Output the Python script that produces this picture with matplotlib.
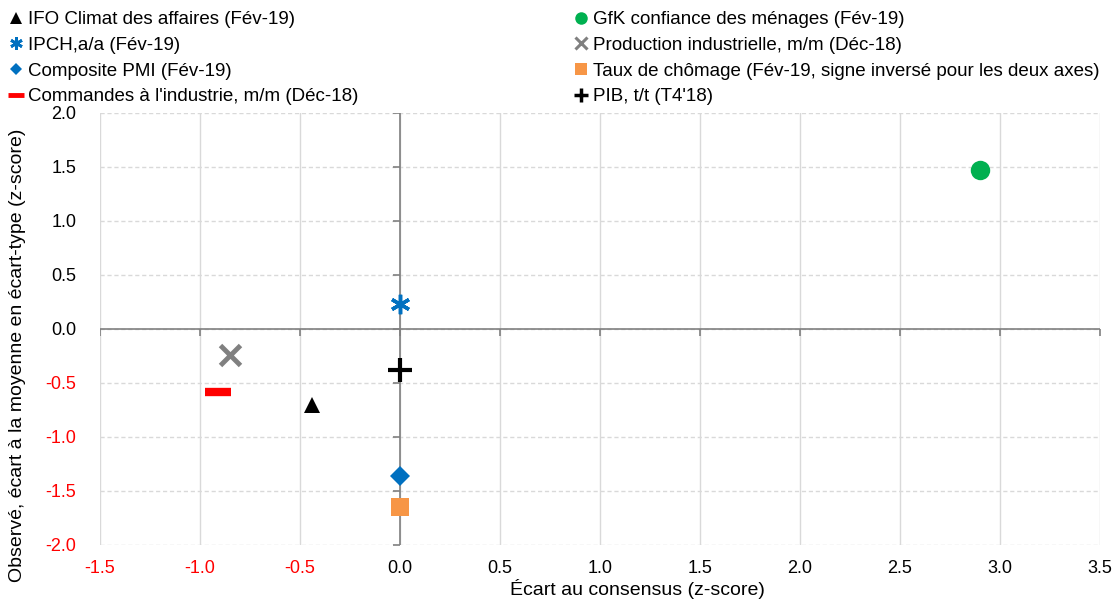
import matplotlib.pyplot as plt
from matplotlib.lines import Line2D
import numpy as np

plt.rcParams['font.family'] = ['Liberation Sans', 'DejaVu Sans']

# Données (écart au consensus, écart à la moyenne)
labels = ["IFO Climat des affaires (Fév-19)",
          "IPCH,a/a (Fév-19)",
          "Composite PMI (Fév-19)",
          "Commandes à l'industrie, m/m (Déc-18)",
          "GfK confiance des ménages (Fév-19)",
          "Production industrielle, m/m (Déc-18)",
          "Taux de chômage (Fév-19, signe inversé pour les deux axes)",
          "PIB, t/t (T4'18)"]
x_vals = [-0.44, 0.0, 0.0, -0.91, 2.90, -0.85, 0.0, 0.0]
y_vals = [-0.70, 0.23, -1.36, -0.58, 1.47, -0.24, -1.65, -0.38]

# Styles des marqueurs
styles = [dict(marker='^', color='black', ms=12, mew=0),
          dict(marker=(6, 2, 0), color='#0070C0', ms=14, mew=2.5),
          dict(marker='D', color='#0070C0', ms=10, mew=0),
          dict(marker='_', color='#FF0000', ms=19, mew=6),
          dict(marker='o', color='#00B050', ms=14, mew=0),
          dict(marker='x', color='#808080', ms=15, mew=3.5),
          dict(marker='s', color='#F79646', ms=13, mew=0),
          dict(marker='+', color='black', ms=17, mew=3)]
leg_styles = [dict(marker='^', color='black', ms=8, mew=0),
              dict(marker=(6, 2, 0), color='#0070C0', ms=9, mew=2),
              dict(marker='D', color='#0070C0', ms=6, mew=0),
              dict(marker='_', color='#FF0000', ms=12, mew=3.5),
              dict(marker='o', color='#00B050', ms=9, mew=0),
              dict(marker='x', color='#808080', ms=8, mew=2.2),
              dict(marker='s', color='#F79646', ms=9, mew=0),
              dict(marker='+', color='black', ms=10, mew=2.5)]

xticks = np.arange(-1.5, 3.51, 0.5)
yticks = np.arange(-2.0, 2.01, 0.5)

fig = plt.figure(figsize=(11.19, 5.99), dpi=100)
ax = fig.add_axes([0.0894, 0.0902, 0.8936, 0.7212])
ax.set_xlim(-1.5, 3.5)
ax.set_ylim(-2.0, 2.0)

# Grille
for xt in xticks:
    ax.axvline(xt, color='#D9D9D9', lw=1, zorder=0)
for yt in yticks:
    ax.axhline(yt, color='#D9D9D9', lw=1, ls=(0, (3, 2)), zorder=0)

# Axes au zéro
ax.axhline(0, color='#808080', lw=1.2, zorder=1)
ax.axvline(0, color='#808080', lw=1.2, zorder=1)
ax.plot(xticks, np.zeros_like(xticks), ls='none', marker=3, ms=5, color='#808080', mew=1.2, zorder=1)
ax.plot(np.zeros_like(yticks), yticks, ls='none', marker=0, ms=5, color='#808080', mew=1.2, zorder=1)

for xv, yv, st in zip(x_vals, y_vals, styles):
    ax.plot([xv], [yv], ls='none', zorder=3, **st)

for s in ax.spines.values():
    s.set_visible(False)
ax.set_xticks(xticks)
ax.set_yticks(yticks)
ax.set_xticklabels([f'{v:.1f}' for v in xticks], fontsize=13)
ax.set_yticklabels([f'{v:.1f}' for v in yticks], fontsize=13)
ax.tick_params(axis='x', length=0, pad=11)
ax.tick_params(axis='y', length=0, pad=17)
for lab, v in zip(ax.get_xticklabels(), xticks):
    lab.set_color('red' if v < 0 else 'black')
for lab, v in zip(ax.get_yticklabels(), yticks):
    lab.set_color('red' if v < 0 else 'black')

fig.text(637 / 1119, 0.0, 'Écart au consensus (z-score)', ha='center', va='bottom', fontsize=14)
fig.text(0.008, 0.407, 'Observé, écart à la moyenne en écart-type (z-score)', rotation=90,
         ha='left', va='center', fontsize=14)

# Légende en deux colonnes
handles = [Line2D([], [], ls='none', **st) for st in leg_styles]
kw = dict(loc='upper left', frameon=False, fontsize=13.5, handlelength=1, handletextpad=0.15,
          labelspacing=0.45, borderaxespad=0.2)
leg1 = fig.legend(handles[:4], labels[:4], bbox_to_anchor=(-0.004, 1.0), **kw)
leg2 = fig.legend(handles[4:], labels[4:], bbox_to_anchor=(0.501, 1.0), **kw)

fig.savefig('out.png', dpi=100)
